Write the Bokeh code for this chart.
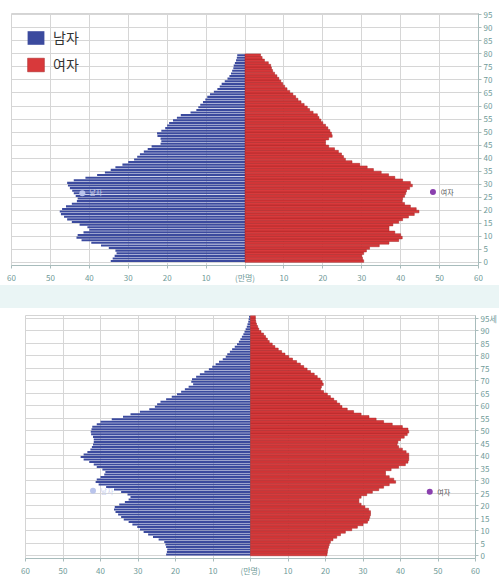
from bokeh.plotting import figure
from bokeh.models import ColumnDataSource, FixedTicker, Range1d, Legend, LegendItem, Spacer
from bokeh.core.properties import value
from bokeh.embed import file_html
from bokeh.resources import INLINE

# ---------------- data (만명, single-year ages) ----------------
AGES_TOP = list(range(0, 80))
MALE_TOP = [34.5, 34, 33.5, 33, 33.3, 35, 37, 39.5, 42, 43.3,
            43, 41.5, 40, 40.5, 42.5, 44.5, 45.7, 46.5, 47.3, 47.6,
            47, 46, 44.5, 43.2, 43, 43.5, 44, 44.4, 45, 45.5,
            45.7, 44, 41, 38, 36, 34.5, 33.3, 31.5, 30, 28.5,
            27.7, 27, 26, 25, 24, 21.7, 21.5, 21.7, 22.5, 22.6,
            21.5, 20.5, 20, 19.5, 18.5, 17.5, 16.5, 14, 12.5, 12,
            11.5, 10.8, 10.2, 9.7, 9, 8, 7.1, 6.5, 6, 5.2,
            4.5, 4, 3.6, 3.3, 3, 2.9, 2.6, 2.3, 2.1, 2.0]
FEMALE_TOP = [30.5, 30.2, 30, 30.5, 31.2, 32, 34.5, 37, 39.5, 40.4,
              40, 38.5, 37, 37, 38, 39.5, 40.5, 42, 43.5, 44.7,
              44, 42.5, 41, 40.4, 40.5, 41, 41.3, 41.5, 42.3, 43,
              42.5, 40.5, 38.5, 36.9, 35, 33, 31.4, 29.5, 27.5, 25.8,
              25.3, 24.8, 24, 23, 21.5, 20.7, 20.7, 21.5, 22.4, 22.2,
              21.8, 21.3, 20.7, 20, 19.5, 19, 18.6, 17.5, 16.6, 16,
              15.2, 14.4, 13.6, 13, 12.3, 11.5, 10.8, 10.2, 9.7, 9.2,
              8.7, 8.2, 7.6, 7.1, 6.8, 6.6, 6, 5, 4.4, 4.0]

AGES_BOTTOM = list(range(0, 96))
MALE_BOTTOM = [22.5, 22.3, 22.2, 22.5, 22.7, 23, 24.5, 26, 27.3, 28.5,
               29.5, 30.2, 31.5, 32.5, 33.8, 34.5, 35.3, 36, 36.4, 36.2,
               35, 33.5, 32.5, 32, 32.8, 34.5, 36.4, 38.5, 40.5, 41.3,
               41, 40, 39, 38.7, 39.5, 41, 41.8, 43, 44.5, 45.3,
               44.5, 43.5, 42.7, 42.3, 42, 41.8, 41.8, 42, 42.5, 42.6,
               42.4, 42.2, 41, 40, 37, 34, 32, 29.5, 27, 25.5,
               24.9, 24, 22.5, 21, 19.6, 18.5, 17.5, 16.5, 15.3, 15.8,
               15.6, 14.5, 13.5, 12.3, 11.1, 10.2, 9.3, 8.4, 7.4, 6.6,
               6.2, 5.5, 4.9, 4.2, 3.6, 3.1, 2.7, 2.3, 1.9, 1.6,
               1.3, 1.0, 0.8, 0.6, 0.5, 0.4]
FEMALE_BOTTOM = [20.4, 20.5, 20.6, 20.8, 21, 21.3, 22, 23, 24, 25.3,
                 27, 28.5, 30, 31.2, 31.6, 31.8, 32, 32, 31.5, 30.5,
                 29.5, 28.9, 28.9, 29.5, 31, 32.5, 34.2, 35.5, 37, 38.7,
                 38.2, 37, 36, 36, 37.5, 39.5, 41.3, 42, 42.2, 42.2,
                 42.2, 41.5, 40.5, 39.5, 39.1, 39.3, 40, 41, 41.8, 42.2,
                 42, 40.5, 37.8, 35.5, 33.5, 31.6, 29.5, 27.5, 25.8, 24.4,
                 23.8, 23, 22.2, 21.3, 20.5, 19.5, 18.7, 18.9, 19.4, 19.1,
                 18.6, 17.8, 17, 16, 15.1, 14.2, 13.3, 12.3, 11.2, 10.2,
                 9.2, 8.3, 7.4, 6.5, 5.8, 5, 4.5, 4, 3.5, 2.8,
                 2.2, 1.9, 1.6, 1.4, 1.3, 1.3]

X_TICKS = [-60, -50, -40, -30, -20, -10, 0, 10, 20, 30, 40, 50, 60]
X_TICK_LABELS = ["60", "50", "40", "30", "20", "10", "(만명)", "10", "20", "30", "40", "50", "60"]
Y_TICKS = list(range(0, 100, 5))
LEGEND_LABELS = ["남자", "여자"]

# in-chart small labels (text, x, age)
NOTES_TOP = [("남자", -40.0, 27.0), ("여자", 50.3, 27.0)]
NOTES_BOTTOM = [("남자", -40.0, 25.8), ("여자", 49.8, 25.6)]
ICONS_TOP = [(-41.8, 26.5), (48.3, 27.0)]
ICONS_BOTTOM = [(-42.0, 26.0), (47.8, 25.6)]

BLUE = "#3b4a9e"
RED = "#d8393b"
RED_LINE = "#a52525"
KFONT = "Noto Sans CJK KR"


def make_fig(ages, male, female, width, height, y_rng, b_left, b_right, b_top, b_bottom,
             top_label, notes, icons, with_legend):
    p = figure(width=width, height=height,
               x_range=Range1d(-60, 60), y_range=Range1d(*y_rng),
               output_backend="svg", toolbar_location=None,
               min_border_left=b_left, min_border_top=b_top,
               min_border_right=b_right, min_border_bottom=b_bottom,
               y_axis_location="right")
    p.background_fill_color = "white"
    p.border_fill_color = "white"
    p.outline_line_color = "#d4d4d4"

    ys = [a + 0.5 for a in ages]
    src_m = ColumnDataSource(dict(y=ys, left=[-v for v in male], right=[0] * len(male)))
    src_f = ColumnDataSource(dict(y=ys, left=[0] * len(female), right=female))
    rm = p.hbar(y="y", left="left", right="right", height=0.8, source=src_m,
                fill_color=BLUE, line_color=None)
    rf = p.hbar(y="y", left="left", right="right", height=1.0, source=src_f,
                fill_color=RED, line_color=RED_LINE, line_width=0.5)

    # grid
    p.xgrid.ticker = FixedTicker(ticks=X_TICKS)
    p.ygrid.ticker = FixedTicker(ticks=Y_TICKS)
    for g in (p.xgrid, p.ygrid):
        g.grid_line_color = "#d6d6d6"
        g.grid_line_width = 1
    p.xgrid.level = "underlay"
    p.ygrid.level = "underlay"

    # axes
    xa = p.xaxis[0]
    xa.ticker = FixedTicker(ticks=X_TICKS)
    xa.major_label_overrides = {t: l for t, l in zip(X_TICKS, X_TICK_LABELS)}
    ya = p.yaxis[0]
    ya.ticker = FixedTicker(ticks=Y_TICKS)
    ya.major_label_overrides = {95: top_label}
    for ax in (xa, ya):
        ax.axis_line_color = "#a8bcbc"
        ax.major_tick_line_color = "#a8bcbc"
        ax.minor_tick_line_color = None
        ax.major_tick_in = 0
        ax.major_tick_out = 3
        ax.major_label_text_color = "#6f9a98"
        ax.major_label_text_font = KFONT
        ax.major_label_text_font_size = "8px"
    xa.major_label_standoff = 3
    ya.major_label_standoff = 2

    # small in-chart notes
    ic_x = [c[0] for c in icons]
    ic_y = [c[1] for c in icons]
    p.scatter(x=ic_x[:1], y=ic_y[:1], marker="circle", size=6, fill_color="#b9c4ec", line_color=None)
    p.scatter(x=ic_x[1:], y=ic_y[1:], marker="circle", size=6, fill_color="#8a3fae", line_color=None)
    p.text(x=[n[1] for n in notes[:1]], y=[n[2] for n in notes[:1]], text=[n[0] for n in notes[:1]],
           text_font=value(KFONT), text_font_size="7px", text_color="#c9d0ee",
           text_baseline="middle")
    p.text(x=[n[1] for n in notes[1:]], y=[n[2] for n in notes[1:]], text=[n[0] for n in notes[1:]],
           text_font=value(KFONT), text_font_size="7px", text_color="#555555",
           text_baseline="middle")

    if with_legend:
        leg = Legend(items=[LegendItem(label=LEGEND_LABELS[0], renderers=[rm]),
                            LegendItem(label=LEGEND_LABELS[1], renderers=[rf])],
                     location="top_left", orientation="vertical",
                     margin=14, padding=1, spacing=7,
                     glyph_width=21, glyph_height=17,
                     label_text_font=KFONT, label_text_font_size="14px",
                     label_text_color="#333333", label_standoff=7,
                     border_line_color=None, background_fill_alpha=0)
        p.add_layout(leg, "center")
    return p


# top chart: frame x 11..478, y 13..267 ; figure 0..285
p1 = make_fig(AGES_TOP, MALE_TOP, FEMALE_TOP, 499, 285, (-1.2, 95.5),
              11, 21, 13, 18, "95", NOTES_TOP, ICONS_TOP, True)
gap = Spacer(width=499, height=23, styles={"background-color": "#eaf5f5"})
# bottom chart: frame x 25..475, y 315..561 ; figure 308..578
p2 = make_fig(AGES_BOTTOM, MALE_BOTTOM, FEMALE_BOTTOM, 499, 270, (-1.1, 96.0),
              25, 24, 7, 17, "95세", NOTES_BOTTOM, ICONS_BOTTOM, False)

open("out.html", "w").write(file_html([p1, gap, p2], INLINE))
